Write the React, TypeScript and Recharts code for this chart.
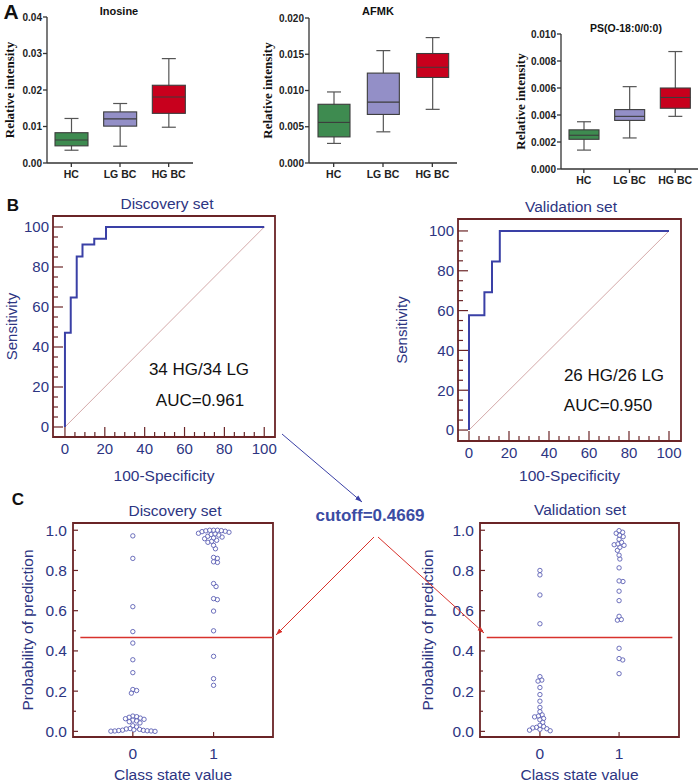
import React from 'react';
import {
  ComposedChart, Bar, Cell, XAxis, YAxis, LineChart, Line, ScatterChart, Scatter,
  ReferenceLine, ReferenceArea, Label,
} from 'recharts';

// ---- panel A: box plots ----
const groups = ['HC', 'LG BC', 'HG BC'];
// [min, q1, median, q3, max]
const inosineStats = [
  [0.0035, 0.0047, 0.0063, 0.0083, 0.0122],
  [0.0046, 0.0101, 0.0121, 0.0140, 0.0163],
  [0.0098, 0.0136, 0.0181, 0.0213, 0.0286],
];
const afmkStats = [
  [0.0027, 0.0036, 0.0056, 0.0081, 0.0098],
  [0.0043, 0.0067, 0.0084, 0.0124, 0.0155],
  [0.0074, 0.0118, 0.0132, 0.0151, 0.0173],
];
const psStats = [
  [0.0014, 0.0022, 0.0025, 0.0029, 0.0035],
  [0.0023, 0.0036, 0.0039, 0.0044, 0.0061],
  [0.0039, 0.0045, 0.0053, 0.0060, 0.0087],
];
const inosineTicks = [0, 0.01, 0.02, 0.03, 0.04];
const afmkTicks = [0, 0.005, 0.01, 0.015, 0.02];
const psTicks = [0, 0.002, 0.004, 0.006, 0.008, 0.01];

// ---- panel B: ROC corners ----
const discFpr = [0, 0, 2.9, 5.9, 8.8, 14.7, 20.6, 100];
const discTpr = [0, 47.1, 64.7, 85.3, 91.2, 94.1, 100, 100];
const valFpr = [0, 0, 7.7, 11.5, 15.4, 100];
const valTpr = [0, 57.7, 69.2, 84.6, 100, 100];
const rocTicks = [0, 5, 10, 15, 20, 25, 30, 35, 40, 45, 50, 55, 60, 65, 70, 75, 80, 85, 90, 95, 100];

// ---- panel C: predicted probabilities ----
const discLG = [
  0.972, 0.860, 0.620, 0.496, 0.439, 0.356, 0.292, 0.208, 0.203, 0.190,
  0.076, 0.073, 0.070, 0.066, 0.063, 0.060, 0.056, 0.052, 0.048, 0.042,
  0.028, 0.022, 0.014, 0.012, 0.010, 0.008, 0.006, 0.005, 0.004, 0.003,
  0.002, 0.002, 0.001, 0.000,
];
const discHG = [
  0.229, 0.262, 0.373, 0.500, 0.598, 0.655, 0.660, 0.720, 0.735, 0.840,
  0.843, 0.860, 0.865, 0.908, 0.925, 0.940, 0.945, 0.950, 0.958, 0.962,
  0.966, 0.970, 0.976, 0.979, 0.982, 0.985, 0.990, 0.993, 0.995, 0.997,
  0.998, 1.0, 1.0, 1.0,
];
const valLG = [
  0.800, 0.778, 0.678, 0.535, 0.272, 0.255, 0.250, 0.218, 0.183, 0.150,
  0.119, 0.098, 0.082, 0.076, 0.072, 0.064, 0.058, 0.045, 0.030, 0.024,
  0.020, 0.017, 0.013, 0.010, 0.006, 0.003,
];
const valHG = [
  0.287, 0.355, 0.362, 0.413, 0.553, 0.556, 0.572, 0.650, 0.697, 0.745,
  0.748, 0.813, 0.857, 0.876, 0.900, 0.915, 0.925, 0.928, 0.932, 0.940,
  0.955, 0.968, 0.975, 0.985, 0.990, 0.998,
];
const cutoff = 0.4669;
const probTicks = [0, 0.1, 0.2, 0.3, 0.4, 0.5, 0.6, 0.7, 0.8, 0.9, 1.0];

const SANS = "'Liberation Sans', Arial, Helvetica, sans-serif";
const SERIF = "'Liberation Serif', 'Times New Roman', serif";
const NAVY = '#2d3582';
const FRAME = '#6a2426';
const ROC_BLUE = '#3a40a6';
const DIAG = '#d4a9a9';
const CUT_RED = '#d8322c';
const DOT = '#5c60b4';
const BOX_COLORS = ['#3e8b50', '#938fc7', '#c8001d'];
const BOX_EDGE = '#3c3c3c';

// beeswarm layout: push each point sideways until it no longer overlaps
function swarm(values: number[], cls: number, pxX: number, pxY: number, dia: number) {
  const placed: { px: number; py: number }[] = [];
  const out: { x: number; y: number }[] = new Array(values.length);
  const order = values.map((_, i) => i).sort((a, b) => values[b] - values[a]);
  for (const i of order) {
    const py = values[i] * pxY;
    const blocks = placed
      .filter((p) => Math.abs(p.py - py) < dia)
      .map((p) => {
        const w = Math.sqrt(dia * dia - (p.py - py) ** 2);
        return [p.px - w, p.px + w];
      });
    const cands = [0, ...blocks.flat()].sort((a, b) => Math.abs(a) - Math.abs(b) || b - a);
    const px = cands.find((c) => blocks.every(([lo, hi]) => c <= lo + 1e-6 || c >= hi - 1e-6)) ?? 0;
    placed.push({ px, py });
    out[i] = { x: cls + px / pxX, y: values[i] };
  }
  return out;
}

const BoxShape = (props: any) => {
  const { x, y, width, height, payload, index, capWidth } = props;
  const top = Math.min(y, y + height);
  const bottom = Math.max(y, y + height);
  const { min, max, q1, med, q3 } = payload;
  const toPx = (v: number) => top + ((max - v) / (max - min)) * (bottom - top);
  const cx = x + width / 2;
  const half = capWidth / 2;
  return (
    <g>
      <line x1={cx} x2={cx} y1={top} y2={bottom} stroke="#555" strokeWidth={1.2} />
      <line x1={cx - half} x2={cx + half} y1={top} y2={top} stroke="#555" strokeWidth={1.2} />
      <line x1={cx - half} x2={cx + half} y1={bottom} y2={bottom} stroke="#555" strokeWidth={1.2} />
      <rect x={x} y={toPx(q3)} width={width} height={toPx(q1) - toPx(q3)}
        fill={BOX_COLORS[index]} stroke={BOX_EDGE} strokeWidth={1.1} />
      <line x1={x} x2={x + width} y1={toPx(med)} y2={toPx(med)} stroke={BOX_EDGE} strokeWidth={1.1} />
    </g>
  );
};

function BoxPlot(p: {
  stats: number[][]; ticks: number[]; digits: number; left: number; top: number;
  width: number; height: number; mTop: number; mRight: number; yWidth: number;
  yLabelX: number; barSize: number;
}) {
  const data = groups.map((g, i) => {
    const [min, q1, med, q3, max] = p.stats[i];
    return { group: g, min, q1, med, q3, max, range: [min, max] };
  });
  const domainMax = p.ticks[p.ticks.length - 1];
  return (
    <div style={{ position: 'absolute', left: p.left, top: p.top }}>
      <ComposedChart width={p.width} height={p.height} data={data}
        margin={{ top: p.mTop, right: p.mRight, bottom: 0, left: 0 }}>
        <XAxis dataKey="group" type="category" height={22} tickSize={4} tickMargin={4}
          stroke="#333" strokeWidth={1.3}
          tick={{ fill: '#222', fontSize: 10.5, fontWeight: 700 }} interval={0} />
        <YAxis type="number" domain={[0, domainMax]} ticks={p.ticks} width={p.yWidth}
          tickSize={4} tickMargin={1} interval={0} stroke="#333" strokeWidth={1.3}
          tickFormatter={(v: number) => v.toFixed(p.digits)}
          tick={{ fill: '#222', fontSize: 10, fontWeight: 700 }}>
          <Label value="Relative intensity" angle={-90} position="insideLeft" offset={p.yLabelX}
            style={{ textAnchor: 'middle', fill: '#111', fontSize: 13, fontWeight: 700, fontFamily: SERIF }} />
        </YAxis>
        <Bar dataKey="range" barSize={p.barSize} isAnimationActive={false}
          shape={(s: any) => <BoxShape {...s} capWidth={14} />}>
          {data.map((d, i) => <Cell key={d.group} fill={BOX_COLORS[i]} />)}
        </Bar>
      </ComposedChart>
    </div>
  );
}

function makeYTick(gap: number, isMajor: (v: number) => boolean, majorLen: number, minorLen: number,
  fmt: (v: number) => string, fontSize: number) {
  return (t: any) => {
    const v = t.payload.value;
    const major = isMajor(v);
    const ax = t.x + gap;
    return (
      <g>
        <line x1={ax} x2={ax + (major ? majorLen : minorLen)} y1={t.y} y2={t.y} stroke={FRAME} strokeWidth={1.2} />
        {major && (
          <text x={t.x} y={t.y} dy="0.36em" textAnchor="end" fill={NAVY} fontSize={fontSize}>{fmt(v)}</text>
        )}
      </g>
    );
  };
}

function makeXTick(gap: number, isMajor: (v: number) => boolean, majorLen: number, minorLen: number,
  fmt: (v: number) => string, fontSize: number) {
  return (t: any) => {
    const v = t.payload.value;
    const major = isMajor(v);
    const ay = t.y - gap;
    return (
      <g>
        <line x1={t.x} x2={t.x} y1={ay} y2={ay - (major ? majorLen : minorLen)} stroke={FRAME} strokeWidth={1.2} />
        {major && (
          <text x={t.x} y={t.y} dy="0.71em" textAnchor="middle" fill={NAVY} fontSize={fontSize}>{fmt(v)}</text>
        )}
      </g>
    );
  };
}

const rocMajor = (v: number) => v % 20 === 0;

function RocPanel(p: {
  fpr: number[]; tpr: number[]; left: number; top: number; width: number; height: number;
  mTop: number; mRight: number; yWidth: number; xHeight: number; yLabelX: number;
  xDomain: number[]; yDomain: number[];
}) {
  const data = p.fpr.map((f, i) => ({ fpr: f, tpr: p.tpr[i] }));
  return (
    <div style={{ position: 'absolute', left: p.left, top: p.top }}>
      <LineChart width={p.width} height={p.height} data={data}
        margin={{ top: p.mTop, right: p.mRight, bottom: 3, left: 0 }}>
        <XAxis dataKey="fpr" type="number" domain={p.xDomain} ticks={rocTicks} interval={0}
          allowDataOverflow height={p.xHeight} axisLine={false} tickLine={false} tickSize={0} tickMargin={6}
          tick={makeXTick(6, rocMajor, 10, 5, String, 15)}>
          <Label value="100-Specificity" position="insideBottom" offset={6}
            style={{ fill: NAVY, fontSize: 15.5 }} />
        </XAxis>
        <YAxis type="number" domain={p.yDomain} ticks={rocTicks} interval={0} allowDataOverflow
          width={p.yWidth} axisLine={false} tickLine={false} tickSize={0} tickMargin={4}
          tick={makeYTick(4, rocMajor, 10, 5, String, 15)}>
          <Label value="Sensitivity" angle={-90} position="insideLeft" offset={p.yLabelX}
            style={{ textAnchor: 'middle', fill: NAVY, fontSize: 15 }} />
        </YAxis>
        <ReferenceArea x1={p.xDomain[0]} x2={p.xDomain[1]} y1={p.yDomain[0]} y2={p.yDomain[1]}
          fill="none" fillOpacity={0} stroke={FRAME} strokeWidth={1.8} />
        <ReferenceLine segment={[{ x: 0, y: 0 }, { x: 100, y: 100 }]} stroke={DIAG} strokeWidth={1} />
        <Line type="stepAfter" dataKey="tpr" stroke={ROC_BLUE} strokeWidth={2} dot={false}
          isAnimationActive={false} />
      </LineChart>
    </div>
  );
}

const probMajor = (v: number) => Math.round(v * 10) % 2 === 0;

function ProbPanel(p: {
  lg: number[]; hg: number[]; left: number; top: number; width: number; height: number;
  mRight: number; yWidth: number; yLabelX: number; xDomain: number[]; cutFrom: number; cutTo: number;
}) {
  const yDomain = [-0.028, 1.036];
  const pxX = (p.width - p.yWidth - p.mRight) / (p.xDomain[1] - p.xDomain[0]);
  const pxY = (p.height - 33 - 46) / (yDomain[1] - yDomain[0]);
  const pts = [...swarm(p.lg, 0, pxX, pxY, 3.9), ...swarm(p.hg, 1, pxX, pxY, 3.9)];
  return (
    <div style={{ position: 'absolute', left: p.left, top: p.top }}>
      <ScatterChart width={p.width} height={p.height}
        margin={{ top: 33, right: p.mRight, bottom: 2, left: 0 }}>
        <XAxis dataKey="x" type="number" domain={p.xDomain} ticks={[0, 1]} interval={0}
          allowDataOverflow height={44} axisLine={false} tickLine={false} tickSize={0} tickMargin={11}
          tick={makeXTick(11, () => true, 5, 5, String, 15.5)}>
          <Label value="Class state value" position="insideBottom" offset={1}
            style={{ fill: NAVY, fontSize: 15.5 }} />
        </XAxis>
        <YAxis dataKey="y" type="number" domain={yDomain} ticks={probTicks} interval={0} allowDataOverflow
          width={p.yWidth} axisLine={false} tickLine={false} tickSize={0} tickMargin={6}
          tick={makeYTick(6, probMajor, 5, 3, (v) => v.toFixed(1), 15.5)}>
          <Label value="Probability of prediction" angle={-90} position="insideLeft" offset={p.yLabelX}
            style={{ textAnchor: 'middle', fill: NAVY, fontSize: 15.5 }} />
        </YAxis>
        <ReferenceArea x1={p.xDomain[0]} x2={p.xDomain[1]} y1={yDomain[0]} y2={yDomain[1]}
          fill="none" fillOpacity={0} stroke={FRAME} strokeWidth={1.8} />
        <ReferenceLine segment={[{ x: p.cutFrom, y: cutoff }, { x: p.cutTo, y: cutoff }]}
          stroke={CUT_RED} strokeWidth={1.6} />
        <Scatter data={pts} isAnimationActive={false}
          shape={(s: any) => <circle cx={s.cx} cy={s.cy} r={2.2} fill="#fff" fillOpacity={0.6} stroke={DOT} strokeWidth={0.9} />} />
      </ScatterChart>
    </div>
  );
}

export default function App() {
  return (
    <div style={{ position: 'absolute', left: 0, top: 0, width: 700, height: 783, overflow: 'hidden', background: '#fff', fontFamily: SANS }}>
      <BoxPlot stats={inosineStats} ticks={inosineTicks} digits={2} left={0} top={0} width={200} height={185}
        mTop={17} mRight={7} yWidth={47} yLabelX={9} barSize={33} />
      <BoxPlot stats={afmkStats} ticks={afmkTicks} digits={3} left={255} top={0} width={207} height={185}
        mTop={18} mRight={5} yWidth={54} yLabelX={12} barSize={32} />
      <BoxPlot stats={psStats} ticks={psTicks} digits={3} left={505} top={0} width={195} height={191}
        mTop={34} mRight={2} yWidth={56} yLabelX={15} barSize={30} />

      <RocPanel fpr={discFpr} tpr={discTpr} left={0} top={190} width={290} height={300}
        mTop={26} mRight={15} yWidth={53} xHeight={50} yLabelX={12} xDomain={[-6, 105.4]} yDomain={[-5, 105.5]} />
      <RocPanel fpr={valFpr} tpr={valTpr} left={380} top={190} width={320} height={300}
        mTop={29} mRight={19} yWidth={78} xHeight={46} yLabelX={22} xDomain={[-5.5, 106]} yDomain={[-5.5, 106]} />

      <ProbPanel lg={discLG} hg={discHG} left={0} top={490} width={290} height={293}
        mRight={17} yWidth={73} yLabelX={27} xDomain={[-0.741, 1.736]} cutFrom={-0.65} cutTo={1.736} />
      <ProbPanel lg={valLG} hg={valHG} left={380} top={490} width={320} height={293}
        mRight={21} yWidth={100} yLabelX={47} xDomain={[-0.757, 1.757]} cutFrom={-0.672} cutTo={1.673} />

      <svg width={700} height={783} style={{ position: 'absolute', left: 0, top: 0, pointerEvents: 'none' }}>
        <defs>
          <marker id="headBlue" viewBox="0 0 10 10" refX="10" refY="5" markerWidth="7" markerHeight="7" orient="auto">
            <path d="M0,1.5 L10,5 L0,8.5 z" fill={ROC_BLUE} />
          </marker>
          <marker id="headRed" viewBox="0 0 10 10" refX="10" refY="5" markerWidth="7" markerHeight="7" orient="auto">
            <path d="M0,1.5 L10,5 L0,8.5 z" fill={CUT_RED} />
          </marker>
        </defs>
        <g fontFamily={SANS} fontWeight={700} fill="#111">
          <text x={11} y={11} fontSize={21} dominantBaseline="central" textAnchor="middle">A</text>
          <text x={13} y={205} fontSize={17} dominantBaseline="central" textAnchor="middle">B</text>
          <text x={18} y={499} fontSize={17} dominantBaseline="central" textAnchor="middle">C</text>
          <text x={119} y={11} fontSize={11} dominantBaseline="central" textAnchor="middle">Inosine</text>
          <text x={378} y={11} fontSize={11} dominantBaseline="central" textAnchor="middle">AFMK</text>
          <text x={626} y={28} fontSize={10.5} dominantBaseline="central" textAnchor="middle">PS(O-18:0/0:0)</text>
        </g>
        <g fontFamily={SANS} fill={NAVY} fontSize={15.5} textAnchor="middle" dominantBaseline="central">
          <text x={167} y={203}>Discovery set</text>
          <text x={571} y={206}>Validation set</text>
          <text x={175} y={510}>Discovery set</text>
          <text x={580} y={509}>Validation set</text>
        </g>
        <g fontFamily={SANS} fill="#111" fontSize={17} textAnchor="middle" dominantBaseline="central">
          <text x={199} y={369}>34 HG/34 LG</text>
          <text x={200} y={400}>AUC=0.961</text>
          <text x={614} y={375}>26 HG/26 LG</text>
          <text x={608} y={405}>AUC=0.950</text>
        </g>
        <text x={370} y={515} fontFamily={SANS} fontSize={17} fontWeight={700} fill="#3b4ca3"
          textAnchor="middle" dominantBaseline="central">cutoff=0.4669</text>
        <line x1={282} y1={434} x2={362} y2={502} stroke={ROC_BLUE} strokeWidth={1} markerEnd="url(#headBlue)" />
        <line x1={374} y1={537} x2={276} y2={635} stroke={CUT_RED} strokeWidth={1} markerEnd="url(#headRed)" />
        <line x1={378} y1={537} x2={484} y2={633} stroke={CUT_RED} strokeWidth={1} markerEnd="url(#headRed)" />
      </svg>
    </div>
  );
}
